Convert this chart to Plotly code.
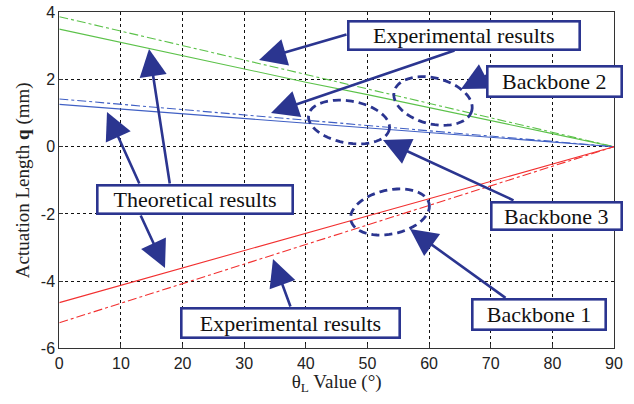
import numpy as np
import plotly.graph_objects as go

# ---------------- data ----------------
theta = [0, 10, 20, 30, 40, 50, 60, 70, 80, 90]
bb2_theory = [3.50, 3.10, 2.70, 2.30, 1.92, 1.55, 1.17, 0.78, 0.39, 0.0]
bb2_exp = [3.87, 3.44, 3.00, 2.57, 2.14, 1.72, 1.29, 0.86, 0.43, 0.0]
bb3_theory = [1.26, 1.12, 0.98, 0.84, 0.70, 0.56, 0.42, 0.28, 0.14, 0.0]
bb3_exp = [1.42, 1.26, 1.10, 0.95, 0.79, 0.63, 0.47, 0.32, 0.16, 0.0]
bb1_theory = [-4.64, -4.12, -3.61, -3.09, -2.58, -2.06, -1.55, -1.03, -0.52, 0.0]
bb1_exp = [-5.24, -4.66, -4.08, -3.49, -2.91, -2.33, -1.75, -1.16, -0.58, 0.0]

x_ticks = [0, 10, 20, 30, 40, 50, 60, 70, 80, 90]
y_ticks = [-6, -4, -2, 0, 2, 4]

GREEN = "#5cc24a"
BLUE = "#3f5fc4"
RED = "#f23030"
NAVY = "#2b3590"

# plot geometry (pixels) used only to place annotations
L, R, T, B = 59.3, 614.0, 12.3, 348.3
W, H = 634, 404


def px2x(px):
    return (px - L) / (R - L) * 90.0


def py2y(py):
    return 4.0 - (py - T) / (B - T) * 10.0


fig = go.Figure()

series = [
    (bb2_theory, GREEN, "solid"),
    (bb2_exp, GREEN, "dashdot"),
    (bb3_theory, BLUE, "solid"),
    (bb3_exp, BLUE, "dashdot"),
    (bb1_theory, RED, "solid"),
    (bb1_exp, RED, "dashdot"),
]
for ys, col, dash in series:
    fig.add_trace(go.Scatter(x=theta, y=ys, mode="lines",
                             line=dict(color=col, width=1.1, dash=dash),
                             showlegend=False))

# ---------------- ellipses ----------------
def ellipse_path(cx, cy, rx, ry, ang_deg, n=60):
    t = np.linspace(0, 2 * np.pi, n)
    a = np.deg2rad(ang_deg)
    ex = rx * np.cos(t)
    ey = ry * np.sin(t)
    px = cx + ex * np.cos(a) - ey * np.sin(a)
    py = cy + ex * np.sin(a) + ey * np.cos(a)
    pts = [f"{px2x(u):.4f},{py2y(v):.4f}" for u, v in zip(px, py)]
    return "M " + " L ".join(pts) + " Z"


ellipses = [
    (433, 101, 40, 23, 14),   # Backbone 2
    (349, 122, 41, 21, 10),   # Backbone 3
    (390, 212, 40, 22, -12),  # Backbone 1
]
shapes = []
for cx, cy, rx, ry, ang in ellipses:
    shapes.append(dict(type="path", xref="x", yref="y",
                       path=ellipse_path(cx, cy, rx, ry, ang),
                       line=dict(color=NAVY, width=2.8, dash="8px,5px"),
                       layer="above"))

# ---------------- arrows (tail px -> head px) ----------------
arrows = [
    ((348, 34), (259, 60)),
    ((456, 50), (271, 113)),
    ((488, 75), (461, 89)),
    ((515, 201), (383, 140)),
    ((507, 299), (410, 229)),
    ((291, 308), (273, 259)),
    ((140, 185), (107, 112)),
    ((170, 185), (149, 49)),
    ((140, 214), (165, 268)),
]
annotations = []
for (tx, ty), (hx, hy) in arrows:
    annotations.append(dict(x=px2x(hx), y=py2y(hy), xref="x", yref="y",
                            ax=px2x(tx), ay=py2y(ty), axref="x", ayref="y",
                            text="", showarrow=True, arrowhead=2,
                            arrowsize=2.1, arrowwidth=2.6,
                            arrowcolor=NAVY, standoff=0))

# ---------------- boxes ----------------
boxes = [
    ("Experimental results", 348.3, 579.3, 21, 49.3),
    ("Theoretical results", 96.7, 292.3, 185, 213.3),
    ("Backbone 2", 487.7, 621.7, 66.7, 96.7),
    ("Backbone 3", 491.7, 621.7, 201.7, 229.3),
    ("Backbone 1", 472.7, 606, 299.3, 330),
    ("Experimental results", 181, 399.3, 307.7, 337.3),
]
BW = 2.6
for txt, x0, x1, y0, y1 in boxes:
    annotations.append(dict(
        x=(x0 + x1) / 2 / W, y=1 - (y0 + y1) / 2 / H,
        xref="paper", yref="paper", xanchor="center", yanchor="middle",
        text=txt, showarrow=False,
        font=dict(family="Liberation Serif", size=22, color="#111111"),
        bgcolor="white", bordercolor=NAVY, borderwidth=BW, borderpad=0,
        width=x1 - x0 - BW, height=y1 - y0 - BW))

fig.update_layout(
    width=W, height=H,
    margin=dict(l=0, r=0, t=0, b=0, autoexpand=False),
    paper_bgcolor="white", plot_bgcolor="white",
    showlegend=False,
    shapes=shapes,
    annotations=annotations,
)

axis_font = dict(family="Liberation Sans", size=16, color="#222222")
fig.update_xaxes(
    domain=[L / W, R / W],
    range=[0, 90], tickvals=x_ticks, ticktext=[str(v) for v in x_ticks],
    showgrid=True, gridcolor="#111111", griddash="3px,3px", gridwidth=1,
    showline=True, linecolor="#333333", linewidth=1, mirror=True,
    ticks="inside", ticklen=4, tickcolor="#333333",
    tickfont=axis_font, zeroline=False,
    title=dict(text="θ<sub>L</sub> Value (°)",
               font=dict(family="Liberation Serif", size=19, color="#222222"),
               standoff=4),
)
fig.update_yaxes(
    domain=[1 - B / H, 1 - T / H],
    range=[-6, 4], tickvals=y_ticks, ticktext=[str(v) for v in y_ticks],
    showgrid=True, gridcolor="#111111", griddash="3px,3px", gridwidth=1,
    showline=True, linecolor="#333333", linewidth=1, mirror=True,
    ticks="inside", ticklen=4, tickcolor="#333333",
    tickfont=axis_font, zeroline=False,
    title=dict(text="Actuation Length <b>q</b> (mm)",
               font=dict(family="Liberation Serif", size=19, color="#222222"),
               standoff=6),
)

fig.write_html("out.html")
